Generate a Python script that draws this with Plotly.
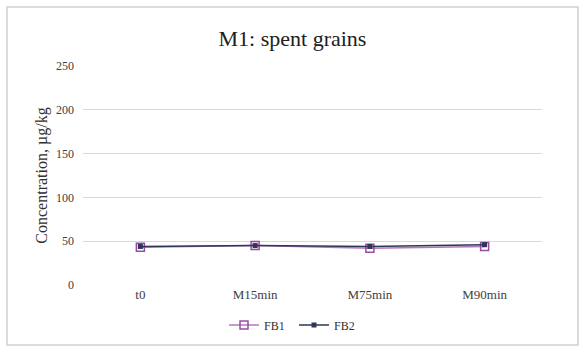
import plotly.graph_objects as go

categories = ["t0", "M15min", "M75min", "M90min"]
fb1 = [43, 45, 42, 44]
fb2 = [44, 45, 44, 46]
y_ticks = [0, 50, 100, 150, 200, 250]

font_family = "Liberation Serif, Times New Roman, serif"

fig = go.Figure()
fig.add_trace(go.Scatter(
    x=categories, y=fb1, name="FB1", mode="lines+markers",
    line=dict(color="#B07AB8", width=1.5),
    marker=dict(symbol="square-open", size=8, color="#9A4C9E", line=dict(width=1.5)),
))
fig.add_trace(go.Scatter(
    x=categories, y=fb2, name="FB2", mode="lines+markers",
    line=dict(color="#2E3558", width=1.5),
    marker=dict(symbol="square", size=5, color="#2E3558"),
))

L, R, T, B = 83, 43, 66, 67
W, H = 585, 352
pw, ph = W - L - R, H - T - B

def px_x(px):
    return (px - L) / pw

def px_y(py):
    return (H - B - py) / ph

fig.add_shape(type="rect", xref="paper", yref="paper",
              x0=px_x(7), x1=px_x(578), y0=px_y(345), y1=px_y(7),
              line=dict(color="#D0D0D0", width=1.5), fillcolor="rgba(0,0,0,0)", layer="below")

fig.update_layout(
    width=W, height=H,
    margin=dict(l=L, r=R, t=T, b=B, autoexpand=False),
    paper_bgcolor="white", plot_bgcolor="white",
    font=dict(family=font_family, color="#404040", size=12),
    title=dict(text="M1: spent grains", x=0.5, xanchor="center", y=1 - 38 / H, yanchor="middle",
               font=dict(size=22, color="#202020", family=font_family)),
    showlegend=True,
    legend=dict(orientation="h", x=px_x(294), xanchor="center", yref="container", y=1 - 325 / H,
                yanchor="middle", font=dict(size=12, color="#303030"), bgcolor="rgba(0,0,0,0)",
                entrywidth=25, entrywidthmode="pixels"),
    xaxis=dict(range=[-0.5, 3.5], showgrid=False, showline=False, ticks="",
               tickfont=dict(size=13), automargin=False),
    yaxis=dict(range=[0, 250], tickvals=y_ticks, showgrid=True, gridcolor="#D9D9D9",
               gridwidth=1, zeroline=False, showline=False, ticks="",
               tickfont=dict(size=12), ticklabelstandoff=8, automargin=False,
               title=dict(text="Concentration, µg/kg", font=dict(size=16, color="#303030"), standoff=4)),
)

fig.write_html("out.html", config={"displayModeBar": False},
               post_script="document.body.style.margin='0';")
